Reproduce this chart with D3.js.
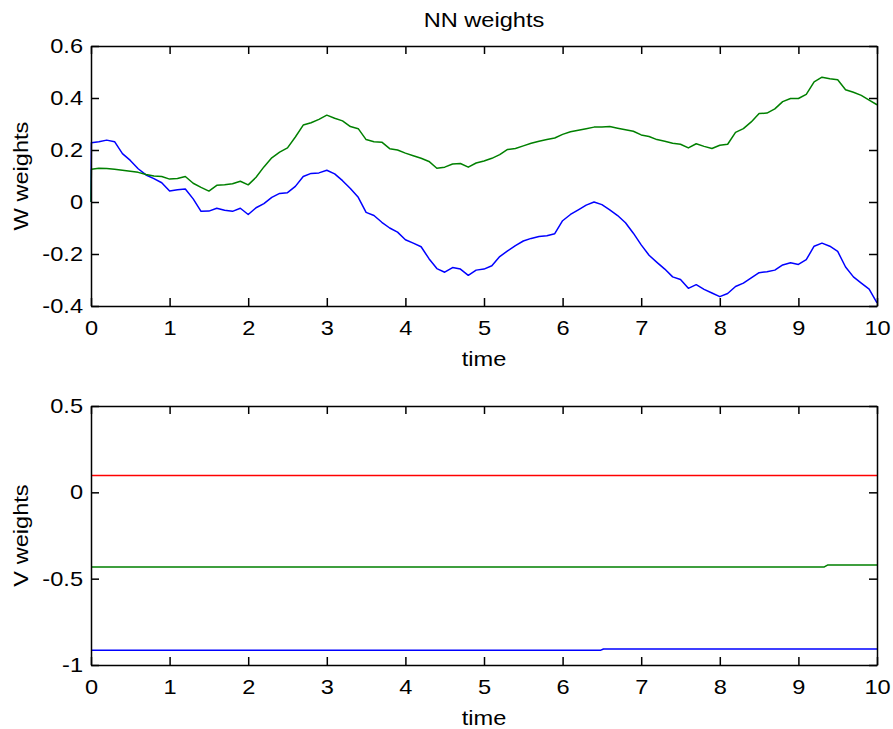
<!DOCTYPE html>
<html>
<head>
<meta charset="utf-8">
<script src="https://cdn.jsdelivr.net/npm/d3@7"></script>
<style>
  body { margin: 0; background: #fff; }
  svg { display: block; }
  text { font-family: "Liberation Sans", Arial, Helvetica, sans-serif; font-size: 20px; fill: #000; }
  .axis path, .axis line { stroke: #000; stroke-width: 1.5; }
</style>
</head>
<body>
<svg width="893" height="729"></svg>
<script>
// time samples and weights
var wTime = [0, 0.005, 0.1, 0.2, 0.3, 0.4, 0.5, 0.6, 0.7, 0.8, 0.9,
  1.0, 1.1, 1.2, 1.3, 1.4, 1.5, 1.6, 1.7, 1.8, 1.9,
  2.0, 2.1, 2.2, 2.3, 2.4, 2.5, 2.6, 2.7, 2.8, 2.9,
  3.0, 3.1, 3.2, 3.3, 3.4, 3.5, 3.6, 3.7, 3.8, 3.9,
  4.0, 4.1, 4.2, 4.3, 4.4, 4.5, 4.6, 4.7, 4.8, 4.9,
  5.0, 5.1, 5.2, 5.3, 5.4, 5.5, 5.6, 5.7, 5.8, 5.9,
  6.0, 6.1, 6.2, 6.3, 6.4, 6.5, 6.6, 6.7, 6.8, 6.9,
  7.0, 7.1, 7.2, 7.3, 7.4, 7.5, 7.6, 7.7, 7.8, 7.9,
  8.0, 8.1, 8.2, 8.3, 8.4, 8.5, 8.6, 8.7, 8.8, 8.9,
  9.0, 9.1, 9.2, 9.3, 9.4, 9.5, 9.6, 9.7, 9.8, 9.9, 10.0];

var wBlue = [0, 0.228, 0.232, 0.238, 0.232, 0.186, 0.160, 0.128, 0.104, 0.090, 0.074,
  0.042, 0.047, 0.050, 0.012, -0.036, -0.035, -0.024, -0.032, -0.036, -0.024,
  -0.048, -0.022, -0.006, 0.018, 0.033, 0.036, 0.060, 0.098, 0.110, 0.112,
  0.122, 0.108, 0.082, 0.052, 0.018, -0.040, -0.052, -0.078, -0.100, -0.116,
  -0.145, -0.158, -0.172, -0.218, -0.256, -0.270, -0.252, -0.258, -0.282, -0.262,
  -0.258, -0.245, -0.210, -0.188, -0.168, -0.150, -0.140, -0.133, -0.130, -0.122,
  -0.072, -0.048, -0.030, -0.012, 0.000, -0.010, -0.030, -0.052, -0.080, -0.120,
  -0.165, -0.205, -0.232, -0.258, -0.288, -0.298, -0.332, -0.318, -0.336, -0.350,
  -0.364, -0.352, -0.325, -0.312, -0.292, -0.272, -0.268, -0.262, -0.242, -0.234,
  -0.240, -0.222, -0.170, -0.158, -0.170, -0.190, -0.250, -0.288, -0.312, -0.335, -0.388];

var wGreen = [0, 0.126, 0.130, 0.129, 0.126, 0.122, 0.118, 0.114, 0.106, 0.100, 0.098,
  0.088, 0.090, 0.098, 0.072, 0.056, 0.042, 0.064, 0.066, 0.070, 0.080,
  0.066, 0.095, 0.135, 0.170, 0.192, 0.208, 0.250, 0.296, 0.305, 0.318,
  0.334, 0.322, 0.312, 0.290, 0.282, 0.240, 0.232, 0.230, 0.205, 0.200,
  0.188, 0.178, 0.168, 0.156, 0.130, 0.134, 0.146, 0.148, 0.134, 0.150,
  0.158, 0.168, 0.182, 0.202, 0.206, 0.216, 0.226, 0.234, 0.240, 0.246,
  0.260, 0.270, 0.276, 0.282, 0.288, 0.288, 0.290, 0.284, 0.278, 0.272,
  0.258, 0.252, 0.240, 0.234, 0.226, 0.222, 0.208, 0.224, 0.214, 0.206,
  0.218, 0.222, 0.268, 0.282, 0.308, 0.340, 0.342, 0.358, 0.386, 0.398,
  0.398, 0.414, 0.462, 0.480, 0.474, 0.470, 0.432, 0.422, 0.410, 0.392, 0.374];

var vRedTime = [0, 10];
var vRed = [0.097, 0.097];
var vGreenTime = [0, 9.33, 9.37, 10];
var vGreen = [-0.432, -0.432, -0.421, -0.421];
var vBlueTime = [0, 6.48, 6.52, 10];
var vBlue = [-0.915, -0.915, -0.907, -0.907];

var xTicks = [0, 1, 2, 3, 4, 5, 6, 7, 8, 9, 10];
var wYTicks = [-0.4, -0.2, 0, 0.2, 0.4, 0.6];
var wYTickLabels = ["-0.4", "-0.2", "0", "0.2", "0.4", "0.6"];
var vYTicks = [-1, -0.5, 0, 0.5];
var vYTickLabels = ["-1", "-0.5", "0", "0.5"];

var sx = 1.18; // text in the figure is a bit wider than Arial
var left = 91, right = 877;

var svg = d3.select("svg");

var x = d3.scaleLinear().domain([0, 10]).range([left, right]);

function zip(t, v) {
  return t.map(function(d, i) { return [d, v[i]]; });
}

function drawPanel(top, bottom, yDomain, yTicks, yLabels, ylabel, series) {
  var y = d3.scaleLinear().domain(yDomain).range([bottom, top]);
  var line = d3.line()
      .x(function(d) { return x(d[0]); })
      .y(function(d) { return y(d[1]); });

  var g = svg.append("g");

  series.forEach(function(s) {
    g.append("path")
        .datum(zip(s.t, s.v))
        .attr("fill", "none")
        .attr("stroke", s.color)
        .attr("stroke-width", 1.5)
        .attr("stroke-linejoin", "round")
        .attr("d", line);
  });

  // bottom axis with labels
  var xb = g.append("g")
      .attr("class", "axis")
      .attr("transform", "translate(0," + bottom + ")")
      .call(d3.axisBottom(x).tickValues(xTicks).tickSizeInner(-8).tickSizeOuter(0)
        .tickPadding(15).tickFormat(function(d) { return String(d); }));
  xb.selectAll("text").attr("transform", "scale(" + sx + ",1)");

  // top axis, ticks only
  g.append("g")
      .attr("class", "axis")
      .attr("transform", "translate(0," + top + ")")
      .call(d3.axisTop(x).tickValues(xTicks).tickSizeInner(-8).tickSizeOuter(0).tickFormat(""));

  // left axis
  var yl = g.append("g")
      .attr("class", "axis")
      .attr("transform", "translate(" + left + ",0)")
      .call(d3.axisLeft(y).tickValues(yTicks).tickSizeInner(-8).tickSizeOuter(0)
        .tickFormat(function(d, i) { return yLabels[i]; }));
  yl.selectAll("text")
      .attr("x", -8 / sx)
      .attr("transform", "scale(" + sx + ",1)");

  // right axis, ticks only
  g.append("g")
      .attr("class", "axis")
      .attr("transform", "translate(" + right + ",0)")
      .call(d3.axisRight(y).tickValues(yTicks).tickSizeInner(-8).tickSizeOuter(0).tickFormat(""));

  g.selectAll(".axis text").attr("font-size", 20).attr("font-family", null);

  g.append("text")
      .attr("text-anchor", "middle")
      .attr("transform", "translate(" + ((left + right) / 2) + "," + (bottom + 60) + ") scale(" + sx + ",1)")
      .text("time");

  g.append("text")
      .attr("text-anchor", "middle")
      .attr("transform", "translate(27.5," + ((top + bottom) / 2) + ") rotate(-90) scale(" + sx + ",1)")
      .text(ylabel);
}

drawPanel(46, 306, [-0.4, 0.6], wYTicks, wYTickLabels, "W weights", [
  {t: wTime, v: wBlue, color: "#0000ff"},
  {t: wTime, v: wGreen, color: "#008000"}
]);

drawPanel(406, 665, [-1, 0.5], vYTicks, vYTickLabels, "V weights", [
  {t: vRedTime, v: vRed, color: "#ff0000"},
  {t: vGreenTime, v: vGreen, color: "#008000"},
  {t: vBlueTime, v: vBlue, color: "#0000ff"}
]);

svg.append("text")
    .attr("text-anchor", "middle")
    .attr("transform", "translate(" + ((left + right) / 2) + ",27) scale(" + sx + ",1)")
    .text("NN weights");
</script>
</body>
</html>
